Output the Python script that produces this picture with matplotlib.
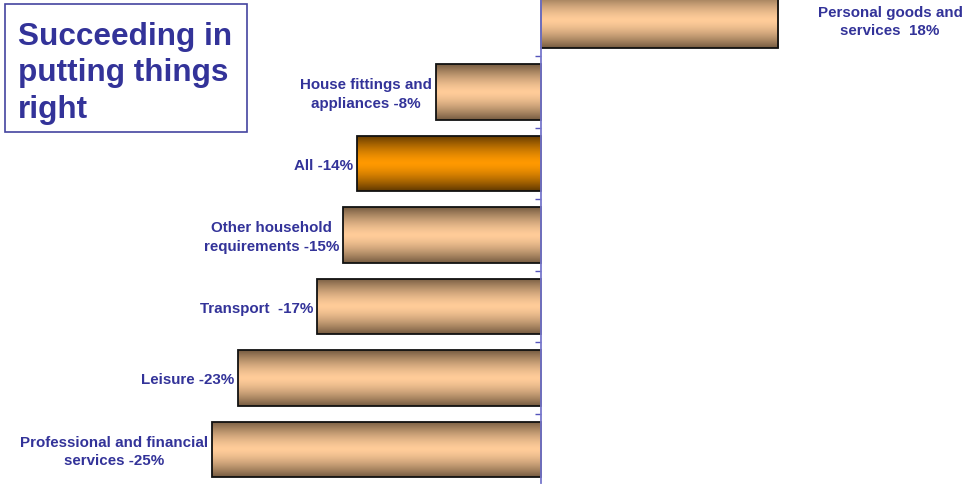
import numpy as np
import matplotlib
matplotlib.use("Agg")
import matplotlib.pyplot as plt
from matplotlib.colors import to_rgb
from matplotlib.patches import Rectangle

# Change in share of complaints resolved, by sector (%)
categories = [
    "Personal goods and\nservices  18%",
    "House fittings and\nappliances -8%",
    "All -14%",
    "Other household\nrequirements -15%",
    "Transport  -17%",
    "Leisure -23%",
    "Professional and financial\nservices -25%",
]
values = [18, -8, -14, -15, -17, -23, -25]
highlight = "All -14%"

title = "Succeeding in\nputting things\nright"

TEXT = "#333399"
plt.rcParams["font.family"] = ["Liberation Sans", "DejaVu Sans"]

fig = plt.figure(figsize=(9.67, 4.85), dpi=100)
ax = fig.add_axes([0, 0, 1, 1])

px_per_unit = 13.17
x0_px = 541
W, H = 967, 485
ax.set_xlim(-x0_px / px_per_unit, (W - x0_px) / px_per_unit)
row_px = 71.5
first_px = 21.5
ax.set_ylim((H - first_px) / row_px, -first_px / row_px)

bar_h = 0.77


def gradient_colors(dark, light, n=256):
    t = np.linspace(0, 1, n)
    w = np.abs(2 * t - 1) ** 1.5
    d = np.array(to_rgb(dark))
    l = np.array(to_rgb(light))
    return (l[None, :] * (1 - w[:, None]) + d[None, :] * w[:, None])[:, None, :]


peach = gradient_colors("#745a40", "#ffcc99")
orange = gradient_colors("#5e3700", "#ff9900")

ypos = np.arange(len(values))
bars = ax.barh(ypos, values, height=bar_h, facecolor="none",
               edgecolor="#111111", linewidth=1.3, zorder=3)

for bar, cat in zip(bars, categories):
    x, y = bar.get_x(), bar.get_y()
    w, h = bar.get_width(), bar.get_height()
    img = orange if cat == highlight else peach
    im = ax.imshow(img, extent=(x, x + w, y + h, y), aspect="auto",
                   interpolation="bilinear", zorder=2)
    im.set_clip_path(bar)

for yi, v, cat in zip(ypos, values, categories):
    if v < 0:
        ax.text(v - 0.3, yi + 0.02, cat, ha="right", va="center",
                multialignment="center", color=TEXT, fontsize=10.9,
                fontweight="bold", linespacing=1.4, zorder=4)
    else:
        ax.text(v + 3.0, yi + 0.01, cat, ha="left", va="center",
                multialignment="center", color=TEXT, fontsize=10.9,
                fontweight="bold", linespacing=1.4, zorder=4)

# Category axis drawn at zero
for side in ["top", "right", "bottom"]:
    ax.spines[side].set_visible(False)
ax.spines["left"].set_position(("data", 0))
ax.spines["left"].set_color("#7777cc")
ax.spines["left"].set_linewidth(1.3)
ax.spines["left"].set_bounds(ax.get_ylim()[1], (484 - first_px) / row_px)
ax.spines["left"].set_zorder(5)
ax.set_yticks(ypos[:-1] + 0.5)
ax.set_yticklabels([])
ax.tick_params(axis="y", direction="out", length=4, width=1, color="#5555bb")
ax.set_xticks([])

# Title box
fig.patches.append(Rectangle((5 / W, 1 - 133 / H), 242 / W, 128 / H,
                             transform=fig.transFigure, fill=False,
                             edgecolor="#4444a0", linewidth=1.2))
fig.text(18 / W, 1 - 73.5 / H, title, ha="left", va="center",
         color=TEXT, fontsize=22.7, fontweight="bold", linespacing=1.3)

fig.savefig("out.png", dpi=100)
